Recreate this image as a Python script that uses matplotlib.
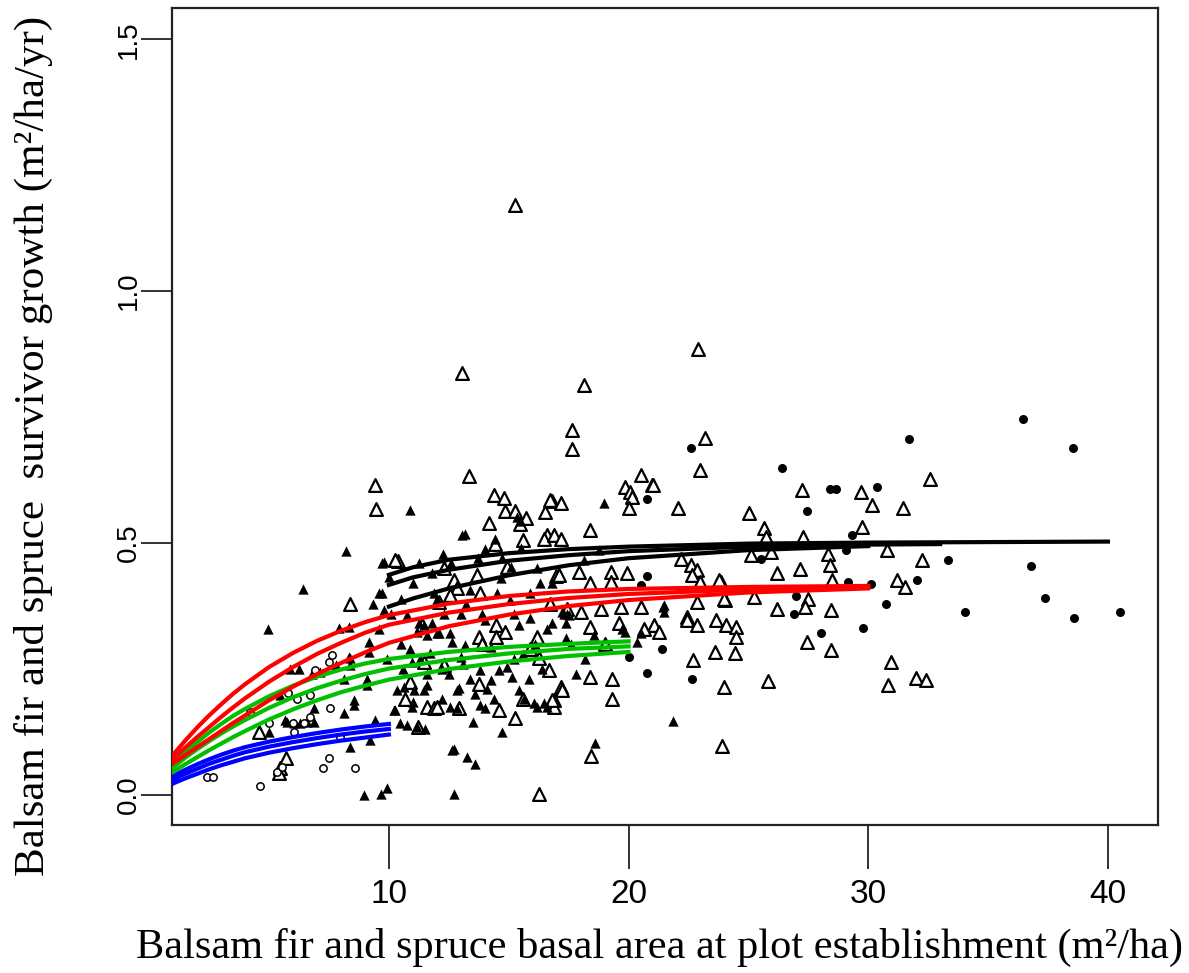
import numpy as np
import matplotlib.pyplot as plt

# open triangles
ot_x = [15.28, 22.88, 13.07, 18.16, 17.66, 17.66, 23.2, 22.98, 13.33, 9.44, 9.48,
        20.5, 20.96, 19.87, 20.08, 20.15, 20.01, 21.03, 22.07,
        14.38, 14.82, 14.86, 15.28, 15.73, 14.17, 15.46, 16.53, 16.81, 16.74, 17.16,
        14.42, 15.59, 16.6, 16.46, 16.88, 17.16, 18.41,
        10.38, 12.29, 12.71, 13.68, 14.91, 12.85, 16.99, 13.82, 12.57, 16.74, 17.09, 17.93, 18.41, 19.25, 19.95, 19.25,
        17.45, 18.0, 18.83, 19.67, 20.5, 22.45, 22.17,
        27.22, 29.69, 30.15, 31.45, 32.58, 25.04, 25.65, 25.72, 27.29, 29.73, 25.09, 25.93, 28.34, 30.77, 32.23,
        28.41, 22.59, 22.87, 22.66, 22.98, 23.84, 26.18, 27.15, 28.5, 31.19, 31.54, 22.87, 24.01, 25.23, 27.49,
        27.35, 26.18, 28.44, 21.06, 21.27, 22.45, 22.87, 23.63, 24.05, 24.47, 24.47, 23.6, 24.44, 22.69, 27.46,
        28.44, 30.94, 30.84, 31.98, 32.4, 23.98, 25.82, 23.77, 23.98,
        18.41, 19.6, 20.64, 18.39, 19.32, 19.32, 17.16, 17.23, 16.88, 16.88, 18.44, 23.91, 16.26,
        11.45, 12.29, 16.26, 16.67, 10.9, 13.75, 10.66, 11.59, 11.87, 12.92, 14.58, 15.59, 16.81, 15.28,
        13.75, 14.45, 14.86, 14.45, 16.18, 11.39, 11.23, 12.01,
        8.36, 4.56, 5.72, 5.47, 5.40, 10.27, 12.1, 13.9, 15.9, 19.0]
ot_y = [1.171, 0.885, 0.837, 0.813, 0.724, 0.687, 0.708, 0.645, 0.634, 0.615, 0.567,
        0.635, 0.615, 0.611, 0.601, 0.592, 0.569, 0.615, 0.569,
        0.595, 0.590, 0.564, 0.564, 0.549, 0.539, 0.538, 0.561, 0.584, 0.585, 0.579,
        0.499, 0.506, 0.516, 0.509, 0.516, 0.509, 0.526,
        0.465, 0.451, 0.427, 0.437, 0.453, 0.410, 0.435, 0.400, 0.397, 0.380, 0.437, 0.443, 0.420, 0.443, 0.440, 0.423,
        0.370, 0.364, 0.370, 0.374, 0.374, 0.354, 0.469,
        0.605, 0.602, 0.575, 0.569, 0.628, 0.559, 0.529, 0.512, 0.512, 0.532, 0.476, 0.483, 0.479, 0.486, 0.466,
        0.456, 0.456, 0.446, 0.437, 0.423, 0.423, 0.440, 0.449, 0.427, 0.427, 0.413, 0.384, 0.387, 0.393, 0.390,
        0.374, 0.370, 0.367, 0.337, 0.324, 0.347, 0.337, 0.347, 0.337, 0.334, 0.314, 0.284, 0.281, 0.268, 0.304,
        0.288, 0.264, 0.218, 0.233, 0.229, 0.215, 0.226, 0.427, 0.390,
        0.334, 0.341, 0.330, 0.235, 0.231, 0.191, 0.215, 0.208, 0.188, 0.175, 0.078, 0.097, 0.003,
        0.264, 0.258, 0.271, 0.248, 0.225, 0.221, 0.191, 0.175, 0.172, 0.172, 0.169, 0.191, 0.188, 0.152,
        0.314, 0.337, 0.324, 0.314, 0.314, 0.337, 0.135, 0.175,
        0.379, 0.126, 0.073, 0.053, 0.043, 0.466, 0.384, 0.300, 0.290, 0.300]

# filled triangles
ft_x = [8.21, 9.72, 6.42, 9.58, 9.34, 9.78, 4.96, 7.9, 8.32, 9.16, 9.16, 5.89, 6.23, 7.81, 8.36, 8.11,
        5.47, 6.86, 8.53, 8.56, 8.11, 5.68, 6.03, 6.30, 4.98, 8.39, 9.22, 8.98, 9.65, 9.92,
        10.87, 11.24, 12.26, 12.71, 12.71, 10.48, 10.76, 11.18, 11.52, 10.24, 10.99, 10.34, 10.62, 11.04,
        11.45, 11.59, 12.57, 12.85, 12.85, 11.18, 11.59, 12.01, 12.57, 11.24, 12.29, 9.09, 9.09, 9.44,
        6.58, 6.86, 5.75, 6.79, 7.14, 8.32, 8.39, 13.19,
        15.35, 15.49, 13.06, 14.42, 14.03, 15.1, 9.99, 9.72, 9.78,
        10.76, 11.8, 11.45, 12.08, 12.64, 15.42, 16.81, 13.19, 14.24, 10.97, 11.73, 12.99, 13.82, 14.58,
        14.94, 15.14, 15.84, 12.92, 14.24, 10.97, 10.2, 13.82, 14.03, 15.42, 15.63, 16.05, 16.18, 16.46,
        16.6, 13.5, 14.73, 12.64, 13.27, 13.61,
        18.97, 18.76, 18.13, 21.48, 17.45, 17.23, 17.3, 17.51, 17.37, 18.55, 19.74, 19.87, 17.37, 20.36,
        20.5, 21.48, 21.84, 18.62, 21.45, 13.4, 14.66, 14.03, 15.07, 16.3, 15.9, 13.0, 11.9,
        10.5, 10.9, 11.3, 12.2, 12.5, 13.1, 13.4, 13.6, 14.1, 14.4, 15.2, 15.6, 16.1, 16.4, 12.2, 11.6,
        10.6, 9.9, 9.6, 10.1, 10.5, 11.0, 11.8, 12.6, 13.7, 14.7, 15.5, 16.2, 16.8, 15.9, 14.5, 13.2,
        12.0, 13.9, 15.2, 16.6, 17.6, 18.2, 17.8]
ft_y = [0.485, 0.461, 0.409, 0.401, 0.379, 0.367, 0.329, 0.332, 0.334, 0.304, 0.284, 0.251, 0.251, 0.258, 0.271, 0.231,
        0.198, 0.172, 0.188, 0.179, 0.162, 0.149, 0.143, 0.143, 0.126, 0.096, 0.109, 0.001, 0.003, 0.013,
        0.565, 0.460, 0.479, 0.092, 0.003, 0.142, 0.139, 0.135, 0.132, 0.169, 0.185, 0.208, 0.215, 0.208,
        0.208, 0.218, 0.175, 0.172, 0.208, 0.324, 0.317, 0.321, 0.321, 0.341, 0.360, 0.231, 0.218, 0.149,
        0.145, 0.145, 0.145, 0.241, 0.245, 0.274, 0.258, 0.519,
        0.551, 0.544, 0.516, 0.509, 0.489, 0.453, 0.433, 0.400, 0.463,
        0.357, 0.341, 0.337, 0.321, 0.304, 0.337, 0.341, 0.298, 0.294, 0.264, 0.281, 0.274, 0.248, 0.248,
        0.254, 0.235, 0.231, 0.212, 0.228, 0.175, 0.169, 0.179, 0.172, 0.208, 0.191, 0.182, 0.175, 0.182,
        0.175, 0.145, 0.126, 0.089, 0.076, 0.062,
        0.580, 0.486, 0.466, 0.377, 0.360, 0.364, 0.360, 0.357, 0.341, 0.317, 0.330, 0.324, 0.311, 0.304,
        0.321, 0.364, 0.147, 0.104, 0.374, 0.407, 0.431, 0.347, 0.387, 0.420, 0.352, 0.360, 0.400,
        0.300, 0.290, 0.270, 0.250, 0.240, 0.260, 0.230, 0.200, 0.210, 0.190, 0.270, 0.280, 0.300, 0.250, 0.190, 0.240,
        0.250, 0.270, 0.330, 0.360, 0.390, 0.420, 0.440, 0.460, 0.470, 0.470, 0.490, 0.450, 0.420, 0.400, 0.400, 0.380,
        0.390, 0.360, 0.360, 0.330, 0.300, 0.270, 0.240]

# filled circles
fc_x = [22.59, 26.39, 31.68, 28.39, 28.64, 30.38, 27.43, 29.34, 29.06, 25.51, 33.31, 29.17, 30.1, 32.02,
        27.0, 26.9, 30.73, 28.04, 29.77, 21.38, 22.66, 36.45, 38.53, 36.8, 37.38, 34.03, 38.59, 40.51,
        20.75, 20.78, 20.01, 20.75, 20.5]
fc_y = [0.689, 0.650, 0.706, 0.607, 0.607, 0.611, 0.563, 0.516, 0.486, 0.469, 0.466, 0.423, 0.418, 0.427,
        0.395, 0.360, 0.379, 0.321, 0.332, 0.289, 0.230, 0.747, 0.689, 0.454, 0.391, 0.364, 0.352, 0.364,
        0.587, 0.435, 0.274, 0.243, 0.417]

# open circles
oc_x = [2.41, 2.68, 4.63, 7.24, 7.49, 8.6, 7.56, 6.72, 4.98, 6.03, 6.44, 5.77, 6.17, 6.72, 6.93,
        7.49, 7.63, 4.22, 7.97, 6.01, 5.33, 5.54]
oc_y = [0.036, 0.036, 0.018, 0.054, 0.073, 0.054, 0.172, 0.155, 0.142, 0.126, 0.142, 0.202, 0.191, 0.198, 0.248,
        0.264, 0.278, 0.165, 0.116, 0.143, 0.046, 0.056]

# fitted curves
x10 = [1, 1.5, 2, 2.5, 3, 3.5, 4, 5, 6, 7, 8, 9, 10]
blue = [[0.038, 0.050, 0.061, 0.071, 0.080, 0.088, 0.095, 0.106, 0.115, 0.123, 0.130, 0.136, 0.141],
        [0.031, 0.042, 0.052, 0.062, 0.070, 0.078, 0.085, 0.096, 0.105, 0.113, 0.120, 0.126, 0.131],
        [0.023, 0.033, 0.042, 0.051, 0.059, 0.066, 0.073, 0.084, 0.093, 0.101, 0.108, 0.114, 0.120]]

x20 = [1, 1.5, 2, 2.5, 3, 3.5, 4, 5, 6, 7, 8, 9, 10, 12.5, 15, 17.5, 20]
green = [[0.063, 0.085, 0.105, 0.124, 0.141, 0.157, 0.171, 0.196, 0.217, 0.235, 0.249, 0.261, 0.270, 0.284, 0.294, 0.300, 0.305],
         [0.055, 0.074, 0.091, 0.107, 0.122, 0.136, 0.149, 0.173, 0.194, 0.212, 0.227, 0.240, 0.251, 0.268, 0.281, 0.290, 0.295],
         [0.046, 0.061, 0.075, 0.089, 0.102, 0.115, 0.127, 0.150, 0.170, 0.188, 0.204, 0.217, 0.229, 0.250, 0.265, 0.276, 0.284]]

x30 = [1, 1.5, 2, 2.5, 3, 3.5, 4, 5, 6, 7, 8, 9, 10, 12.5, 15, 17.5, 20, 25, 30]
red = [[0.080, 0.108, 0.134, 0.158, 0.180, 0.201, 0.220, 0.254, 0.282, 0.306, 0.326, 0.343, 0.357, 0.380, 0.395, 0.404, 0.409, 0.413, 0.415],
       [0.072, 0.094, 0.115, 0.135, 0.155, 0.174, 0.192, 0.225, 0.254, 0.280, 0.302, 0.322, 0.338, 0.362, 0.379, 0.391, 0.399, 0.408, 0.412],
       [0.063, 0.079, 0.095, 0.111, 0.127, 0.143, 0.158, 0.188, 0.215, 0.240, 0.262, 0.283, 0.302, 0.335, 0.358, 0.375, 0.387, 0.402, 0.410]]

black_x = [[10, 11, 12.5, 15, 17.5, 20, 25, 30, 35, 40],
           [10, 11, 12.5, 15, 17.5, 20, 25, 30, 33],
           [10, 11, 12.5, 15, 17.5, 20, 25, 30]]
black_y = [[0.437, 0.452, 0.467, 0.480, 0.488, 0.493, 0.499, 0.501, 0.502, 0.503],
           [0.417, 0.432, 0.447, 0.465, 0.476, 0.484, 0.493, 0.497, 0.498],
           [0.374, 0.390, 0.410, 0.436, 0.456, 0.470, 0.486, 0.494]]

fig = plt.figure(figsize=(11.89, 9.73), dpi=100)
ax = fig.add_axes([172/1189, 1-825/973, 986/1189, 817/973])

ax.scatter(ot_x, ot_y, marker='^', s=85, facecolors='white', edgecolors='black', linewidths=1.6, zorder=2)
ax.scatter(ft_x, ft_y, marker='^', s=55, color='black', linewidths=0, zorder=2)
ax.scatter(fc_x, fc_y, marker='o', s=42, color='black', linewidths=0, zorder=2)
ax.scatter(oc_x, oc_y, marker='o', s=28, facecolors='white', edgecolors='black', linewidths=1.1, zorder=2)

lw = 3.0
for yy in blue:
    ax.plot(x10, yy, color='#0000ff', lw=lw, zorder=3)
for yy in green:
    ax.plot(x20, yy, color='#00c000', lw=lw, zorder=3)
for yy in red:
    ax.plot(x30, yy, color='#ff0000', lw=lw, zorder=3)
for xx, yy in zip(black_x, black_y):
    ax.plot(xx, yy, color='black', lw=lw, zorder=3)

ax.set_xlim(0.95, 42.09)
ax.set_ylim(-0.0595, 1.562)
ax.set_xticks([10, 20, 30, 40])
ax.set_yticks([0.0, 0.5, 1.0, 1.5])
ax.set_yticklabels(['0.0', '0.5', '1.0', '1.5'], rotation=90, va='center')
ax.tick_params(axis='x', length=32, width=1.3, pad=7, labelsize=24, color='#222222')
ax.tick_params(axis='y', length=22, width=1.3, pad=0, labelsize=20, color='#222222')
for lab in ax.get_xticklabels() + ax.get_yticklabels():
    lab.set_family('Liberation Sans')
for sp in ax.spines.values():
    sp.set_linewidth(1.6)
    sp.set_color('#222222')

fig.text(0.555, 0.026, 'Balsam fir and spruce basal area at plot establishment (m²/ha)',
         family='Liberation Serif', fontsize=30.5, ha='center', va='center')
fig.text(0.028, 0.542, 'Balsam fir and spruce  survivor growth (m²/ha/yr)',
         family='Liberation Serif', fontsize=31, rotation=90, ha='center', va='center')

fig.savefig('out.png', dpi=100)
